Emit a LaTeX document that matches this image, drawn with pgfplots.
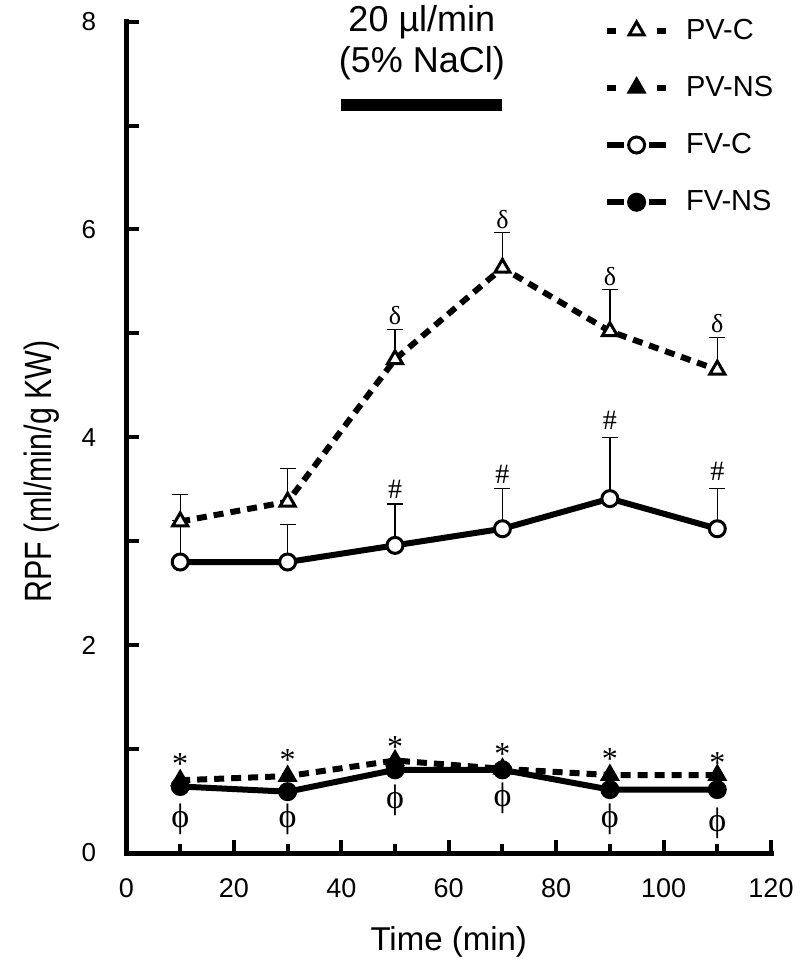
\documentclass[border=0pt]{standalone}
\usepackage{fontspec}
\setmainfont{Liberation Sans}
\newfontfamily\ynarrowf[FakeStretch=0.8]{Liberation Sans}
\newfontfamily\serif{Liberation Serif}
\usepackage{pgfplots}
\pgfplotsset{compat=1.18}

% x  y  upper error
\pgfplotstableread{
x y e
10 3.19 0.26
30 3.38 0.32
50 4.75 0.29
70 5.63 0.34
90 5.02 0.40
110 4.65 0.31
}\pvc
\pgfplotstableread{
x y
10 0.70
30 0.74
50 0.89
70 0.81
90 0.75
110 0.75
}\pvns
\pgfplotstableread{
x y e
10 2.80 0.40
30 2.80 0.36
50 2.96 0.40
70 3.12 0.39
90 3.41 0.59
110 3.12 0.39
}\fvc
\pgfplotstableread{
x y
10 0.64
30 0.59
50 0.80
70 0.80
90 0.61
110 0.61
}\fvns

\pgfplotsset{
  errbar/.style={forget plot, draw=none, mark=none,
    error bars/.cd, y dir=plus, y explicit,
    error bar style={draw=black, line width=0.7pt, solid},
    error mark options={rotate=90, mark size=4pt, line width=0.7pt, draw=black, solid}},
  sym/.style={forget plot, draw=none, mark=none, nodes near coords={#1},
    every node near coord/.append style={anchor=center, inner sep=0pt}},
  dashleg/.style={legend image code/.code={
    \draw[##1, /tikz/solid] (0pt,0pt) -- (4.5pt,0pt) (25pt,0pt) -- (29.5pt,0pt);
    \draw[##1, /tikz/only marks] plot coordinates {(14.75pt,0pt)};
    \path[draw=none, fill=none] (0pt,0pt) (39.5pt,0pt);}},
  solidleg/.style={legend image code/.code={
    \draw[##1] (0pt,0pt) -- (8.5pt,0pt) (21pt,0pt) -- (29.5pt,0pt);
    \draw[##1, /tikz/only marks] plot coordinates {(14.75pt,0pt)};
    \path[draw=none, fill=none] (0pt,0pt) (39.5pt,0pt);}},
}

\begin{document}
\begin{tikzpicture}
\begin{axis}[
  scale only axis, width=322.25pt, height=415.7pt,
  xmin=0, xmax=120, ymin=0, ymax=8,
  axis x line*=bottom, axis y line*=left,
  axis line style={line width=2.5pt, -, line cap=rect},
  xtick={0,20,...,120}, minor x tick num=1,
  ytick={0,1,...,8}, yticklabels={0,,2,,4,,6,,8},
  tick align=inside,
  major tick length=6.5pt, minor tick length=4.5pt,
  every tick/.style={black, line width=2pt},
  /pgf/number format/assume math mode=true,
  xticklabel style={font=\fontsize{13.5}{13.5}\selectfont, anchor=center, yshift=-17.5pt},
  yticklabel style={font=\fontsize{13}{13}\selectfont, anchor=east, inner sep=0pt, xshift=-15pt},
  xlabel={Time (min)}, ylabel={RPF (ml/min/g KW)},
  xlabel style={font=\fontsize{16.5}{16.5}\selectfont, at={(axis description cs:0.5,-0.107)}, anchor=center},
  ylabel style={font=\ynarrowf\fontsize{19}{19}\selectfont, at={(axis description cs:-0.131,0.459)}, anchor=center},
  clip=false,
  legend style={draw=none, fill=none, at={(axis cs:88.85,8.03)}, anchor=north west,
    font=\fontsize{14.5}{14.5}\selectfont, row sep=17pt, inner sep=0pt,
    nodes={inner sep=0pt}},
  legend cell align={left},
]
% error bars first, so the markers sit on top
\addplot[errbar] table[x=x, y=y, y error=e] {\pvc};
\addplot[errbar] table[x=x, y=y, y error=e] {\fvc};

\addplot[black, line width=3pt, dash pattern=on 5pt off 3.5pt, mark=triangle*, mark size=4.3pt,
  mark options={solid, fill=white, draw=black, line width=1.5pt}, dashleg] table[x=x, y=y] {\pvc};
\addplot[black, line width=3pt, dash pattern=on 5pt off 3.5pt, mark=triangle*, mark size=4.3pt,
  mark options={solid, fill=black, draw=black, line width=1.5pt}, dashleg] table[x=x, y=y] {\pvns};
\addplot[black, line width=3pt, mark=*, mark size=4pt,
  mark options={solid, fill=white, draw=black, line width=1.5pt}, solidleg] table[x=x, y=y] {\fvc};
\addplot[black, line width=3pt, mark=*, mark size=4pt,
  mark options={solid, fill=black, draw=black, line width=1.5pt}, solidleg] table[x=x, y=y] {\fvns};
\legend{PV-C, PV-NS, FV-C, FV-NS}

% significance symbols
\addplot[sym={δ}, every node near coord/.append style={font=\serif\fontsize{13}{13}\selectfont}]
  coordinates {(50,5.17) (70,6.10) (90,5.55) (110,5.09)};
\addplot[sym={\#}, every node near coord/.append style={font=\serif\fontsize{14}{14}\selectfont}]
  coordinates {(50,3.50) (70,3.64) (90,4.16) (110,3.67)};
\addplot[sym={*}, every node near coord/.append style={font=\serif\fontsize{16}{16}\selectfont}]
  coordinates {(10,0.86) (30,0.89) (50,1.02) (70,0.95) (90,0.90) (110,0.87)};
\addplot[sym={ϕ}, every node near coord/.append style={font=\serif\fontsize{17}{17}\selectfont}]
  coordinates {(10,0.32) (30,0.32) (50,0.51) (70,0.53) (90,0.32) (110,0.29)};

% infusion period
\addplot[forget plot, black, mark=none, line width=6pt] coordinates {(40,7.2) (70,7.2)};
\node[font=\fontsize{18}{18}\selectfont] at (axis cs:55,7.99) {20 µl/min};
\node[font=\fontsize{18}{18}\selectfont] at (axis cs:55,7.60) {(5\% NaCl)};
\end{axis}
\pgfresetboundingbox
\useasboundingbox (-63.25pt,-58pt) rectangle (336.75pt,426.5pt);
\end{tikzpicture}
\end{document}
